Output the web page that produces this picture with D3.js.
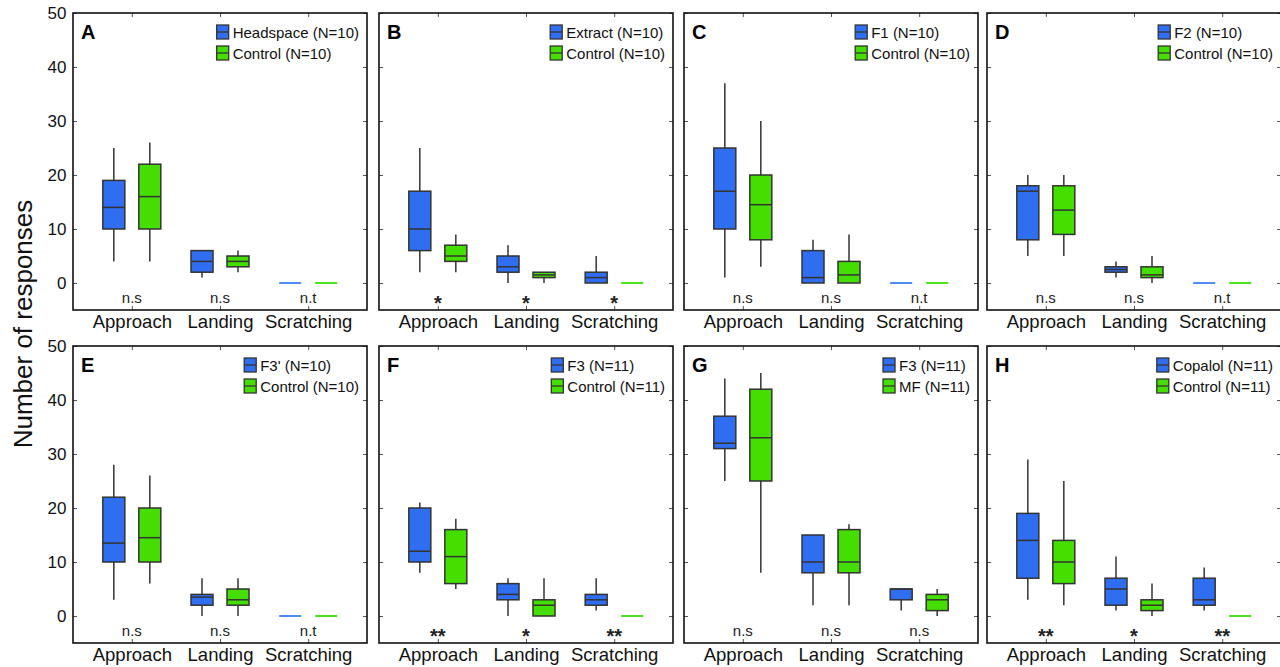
<!DOCTYPE html>
<html>
<head>
<meta charset="utf-8">
<script src="https://cdn.jsdelivr.net/npm/d3@7"></script>
<style>
    body { margin: 0; background: #fff; }
    svg { display: block; font-family: "Liberation Sans", Arial, sans-serif; }
</style>
</head>
<body>
<svg id="chart" width="1280" height="667"></svg>
<script>
// Panel data
const panelLetters = ["A", "B", "C", "D", "E", "F", "G", "H"];
const categories = ["Approach", "Landing", "Scratching"];
const groups = ["treat", "control"];
const treatLabels = ["Headspace (N=10)", "Extract (N=10)", "F1 (N=10)", "F2 (N=10)",
    "F3' (N=10)", "F3 (N=11)", "F3 (N=11)", "Copalol (N=11)"];
const controlLabels = ["Control (N=10)", "Control (N=10)", "Control (N=10)", "Control (N=10)",
    "Control (N=10)", "Control (N=11)", "MF (N=11)", "Control (N=11)"];

// [min, q1, median, q3, max] for Approach, Landing, Scratching
const treatStats = [
    [[4, 10, 14, 19, 25], [1, 2, 4, 6, 6], [0, 0, 0, 0, 0]],
    [[2, 6, 10, 17, 25], [0, 2, 3, 5, 7], [0, 0, 1, 2, 5]],
    [[1, 10, 17, 25, 37], [0, 0, 1, 6, 8], [0, 0, 0, 0, 0]],
    [[5, 8, 17, 18, 20], [1, 2, 2.5, 3, 4], [0, 0, 0, 0, 0]],
    [[3, 10, 13.5, 22, 28], [0, 2, 3.5, 4, 7], [0, 0, 0, 0, 0]],
    [[8, 10, 12, 20, 21], [0, 3, 4, 6, 7], [1, 2, 3, 4, 7]],
    [[25, 31, 32, 37, 44], [2, 8, 10, 15, 15], [1, 3, 5, 5, 5]],
    [[3, 7, 14, 19, 29], [1, 2, 5, 7, 11], [1, 2, 3, 7, 9]]
];
const controlStats = [
    [[4, 10, 16, 22, 26], [2, 3, 4, 5, 6], [0, 0, 0, 0, 0]],
    [[2, 4, 5, 7, 9], [0, 1, 1.5, 2, 2], [0, 0, 0, 0, 0]],
    [[3, 8, 14.5, 20, 30], [0, 0, 1.5, 4, 9], [0, 0, 0, 0, 0]],
    [[5, 9, 13.5, 18, 20], [0, 1, 1.5, 3, 5], [0, 0, 0, 0, 0]],
    [[6, 10, 14.5, 20, 26], [0, 2, 3, 5, 7], [0, 0, 0, 0, 0]],
    [[5, 6, 11, 16, 18], [0, 0, 2, 3, 7], [0, 0, 0, 0, 0]],
    [[8, 25, 33, 42, 45], [2, 8, 10, 16, 17], [0, 1, 3, 4, 5]],
    [[2, 6, 10, 14, 25], [0, 1, 2, 3, 6], [0, 0, 0, 0, 0]]
];
const sigLabels = [
    ["n.s", "n.s", "n.t"], ["*", "*", "*"], ["n.s", "n.s", "n.t"], ["n.s", "n.s", "n.t"],
    ["n.s", "n.s", "n.t"], ["**", "*", "**"], ["n.s", "n.s", "n.s"], ["**", "*", "**"]
];
const yTicks = [0, 10, 20, 30, 40, 50];

const fill = { treat: "#2f6ef0", control: "#44df00" };
const flatColor = { treat: "#4f8cf2", control: "#4be31c" };
const boxStroke = "#333";

const svg = d3.select("#chart");
const panelW = 294, panelH = 297;
const lefts = [73, 379, 684, 987];
const tops = [13, 346];
const boxW = 22;

// Y axis title
svg.append("text")
    .attr("transform", "translate(32,324) rotate(-90)")
    .attr("text-anchor", "middle")
    .attr("font-size", "26px")
    .attr("fill", "#111")
    .text("Number of responses");

panelLetters.forEach((letter, p) => {
    const col = p % 4, row = Math.floor(p / 4);
    const g = svg.append("g")
        .attr("transform", `translate(${lefts[col]},${tops[row]})`);

    const x = d3.scalePoint().domain(categories).range([0, panelW]).padding(0.667);
    const xg = d3.scalePoint().domain(groups).range([-18, 18]);
    const y = d3.scaleLinear().domain([-5, 50]).range([panelH, 0]);

    // Axes (inward ticks on all sides)
    g.append("g")
        .attr("class", "axis")
        .call(d3.axisLeft(y).tickValues(yTicks).tickSizeInner(-4).tickSizeOuter(0)
            .tickPadding(6.5).tickFormat(col === 0 ? d3.format("d") : ""))
        .call(a => a.select(".domain").remove());
    g.append("g")
        .attr("transform", `translate(${panelW},0)`)
        .call(d3.axisRight(y).tickValues(yTicks).tickSizeInner(-4).tickSizeOuter(0).tickFormat(""))
        .call(a => a.select(".domain").remove());
    g.append("g")
        .call(d3.axisTop(x).tickSizeInner(-4).tickSizeOuter(0).tickFormat(""))
        .call(a => a.select(".domain").remove());
    g.append("g")
        .attr("class", "axis-x")
        .attr("transform", `translate(0,${panelH})`)
        .call(d3.axisBottom(x).tickSizeInner(-4).tickSizeOuter(0).tickPadding(5))
        .call(a => a.select(".domain").remove());

    g.selectAll(".tick line").attr("stroke", "#555").attr("stroke-width", 1);
    g.selectAll(".axis .tick text").attr("font-size", "17px").attr("fill", "#111");
    g.selectAll(".axis-x .tick text").attr("font-size", "18.5px").attr("fill", "#111");

    // Frame
    g.append("rect")
        .attr("width", panelW)
        .attr("height", panelH)
        .attr("fill", "none")
        .attr("stroke", "#111")
        .attr("stroke-width", 1.6);

    // Boxes
    categories.forEach((cat, c) => {
        groups.forEach(grp => {
            const s = (grp === "treat" ? treatStats : controlStats)[p][c];
            const cx = x(cat) + xg(grp);
            const [mn, q1, med, q3, mx] = s;

            if (mn === mx) {
                // all zero: flat coloured line
                g.append("line")
                    .attr("x1", cx - boxW / 2).attr("x2", cx + boxW / 2)
                    .attr("y1", y(mn)).attr("y2", y(mn))
                    .attr("stroke", flatColor[grp])
                    .attr("stroke-width", 2);
                return;
            }

            g.append("line")
                .attr("x1", cx).attr("x2", cx)
                .attr("y1", y(mx)).attr("y2", y(mn))
                .attr("stroke", boxStroke)
                .attr("stroke-width", 1.5);

            g.append("rect")
                .attr("x", cx - boxW / 2)
                .attr("y", y(q3))
                .attr("width", boxW)
                .attr("height", y(q1) - y(q3))
                .attr("fill", fill[grp])
                .attr("stroke", boxStroke)
                .attr("stroke-width", 1.5);

            g.append("line")
                .attr("x1", cx - boxW / 2).attr("x2", cx + boxW / 2)
                .attr("y1", y(med)).attr("y2", y(med))
                .attr("stroke", boxStroke)
                .attr("stroke-width", 1.5);
        });

        // Significance
        const sig = sigLabels[p][c];
        const star = sig.startsWith("*");
        g.append("text")
            .attr("x", x(cat))
            .attr("y", star ? y(0) + 26.5 : y(0) + 20)
            .attr("text-anchor", "middle")
            .attr("font-size", star ? "20px" : "15px")
            .attr("font-weight", star ? "bold" : "normal")
            .attr("fill", "#222")
            .text(sig);
    });

    // Panel letter
    g.append("text")
        .attr("x", 8)
        .attr("y", 26)
        .attr("font-size", "20px")
        .attr("font-weight", "bold")
        .attr("fill", "#000")
        .text(letter);

    // Legend
    const legend = g.append("g");
    const rows = [
        { key: "treat", label: treatLabels[p] },
        { key: "control", label: controlLabels[p] }
    ];
    const items = legend.selectAll(".item")
        .data(rows)
        .join("g")
        .attr("transform", (d, i) => `translate(0,${19 + i * 21})`);
    items.append("rect")
        .attr("x", 0).attr("y", -7)
        .attr("width", 12).attr("height", 14)
        .attr("fill", d => fill[d.key])
        .attr("stroke", boxStroke)
        .attr("stroke-width", 1.3);
    items.append("line")
        .attr("x1", 0).attr("x2", 12)
        .attr("y1", 0).attr("y2", 0)
        .attr("stroke", boxStroke)
        .attr("stroke-width", 1.3);
    const labels = items.append("text")
        .attr("x", 16)
        .attr("y", 5.5)
        .attr("font-size", "15px")
        .attr("fill", "#111")
        .text(d => d.label);
    const maxW = d3.max(labels.nodes(), n => n.getComputedTextLength());
    legend.attr("transform", `translate(${panelW - 8 - 16 - maxW},0)`);
});
</script>
</body>
</html>
